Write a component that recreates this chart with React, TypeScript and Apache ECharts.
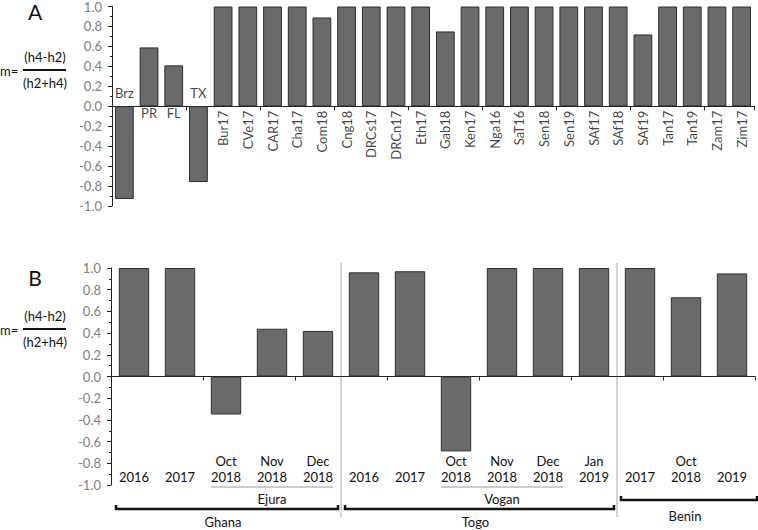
import React, { useEffect, useRef } from 'react';
import * as echarts from 'echarts';

// ---------- Data ----------
const topCategories = ['Brz', 'PR', 'FL', 'TX', 'Bur17', 'CVe17', 'CAR17', 'Cha17', 'Com18', 'Cng18', 'DRCs17', 'DRCn17', 'Eth17', 'Gab18', 'Ken17', 'Nga16', 'SaT16', 'Sen18', 'Sen19', 'SAf17', 'SAf18', 'SAf19', 'Tan17', 'Tan19', 'Zam17', 'Zim17'];
const topValues = [-0.93, 0.59, 0.41, -0.76, 1, 1, 1, 1, 0.89, 1, 1, 1, 1, 0.75, 1, 1, 1, 1, 1, 1, 1, 0.72, 1, 1, 1, 1];
const topHorizontalLabels = ['Brz', 'PR', 'FL', 'TX'];

const bottomKeys = ['Gh2016', 'Gh2017', 'GhOct18', 'GhNov18', 'GhDec18', 'To2016', 'To2017', 'ToOct18', 'ToNov18', 'ToDec18', 'ToJan19', 'Be2017', 'BeOct18', 'Be2019'];
const bottomLabels = ['2016', '2017', 'Oct\n2018', 'Nov\n2018', 'Dec\n2018', '2016', '2017', 'Oct\n2018', 'Nov\n2018', 'Dec\n2018', 'Jan\n2019', '2017', 'Oct\n2018', '2019'];
const bottomValues = [1, 1, -0.35, 0.44, 0.42, 0.96, 0.97, -0.69, 1, 1, 1, 1, 0.73, 0.95];

const countryGroups = [
  { name: 'Ghana', from: 0, to: 4 },
  { name: 'Togo', from: 5, to: 10 },
  { name: 'Benin', from: 11, to: 13 },
];
const siteGroups = [
  { name: 'Ejura', from: 2, to: 4 },
  { name: 'Vogan', from: 7, to: 9 },
];
const separatorsAfter = [4, 10];

const yTickMin = -1;
const yTickMax = 1;
const yTickStep = 0.2;

// ---------- Styles ----------
const FONT = 'Lato, "Open Sans", sans-serif';
const BAR_FILL = '#6a6a6a';
const BAR_EDGE = '#2e2e2e';
const TICK_LABEL = '#808080';
const TEXT = '#111111';

const fmtY = (v: number) => (Math.abs(v) < 1e-9 ? '0.0' : v.toFixed(1));

const yAxisCommon = (gridIndex: number) => ({
  type: 'value',
  gridIndex,
  min: yTickMin,
  max: yTickMax,
  interval: yTickStep,
  axisLine: { show: true, lineStyle: { color: '#222', width: 1 } },
  axisTick: { show: true, length: 4, lineStyle: { color: '#222' } },
  minorTick: { show: true, splitNumber: 2, length: 2, lineStyle: { color: '#222' } },
  splitLine: { show: false },
  axisLabel: { formatter: fmtY, color: TICK_LABEL, fontSize: 13, fontFamily: FONT, margin: 10 },
});

export default function App() {
  const ref = useRef<HTMLDivElement>(null);

  useEffect(() => {
    if (!ref.current) return;
    const chart = echarts.init(ref.current, undefined, { renderer: 'svg' });

    const option: any = {
      animation: false,
      backgroundColor: '#ffffff',
      textStyle: { fontFamily: FONT },
      grid: [
        { left: 112, top: 6, width: 642, height: 200 },
        { left: 111, top: 268, width: 644, height: 217 },
      ],
      xAxis: [
        {
          type: 'category',
          gridIndex: 0,
          data: topCategories,
          axisLine: { onZero: true, lineStyle: { color: '#222', width: 1 } },
          axisTick: { show: true, length: 4, lineStyle: { color: '#222' } },
          axisLabel: { show: false },
        },
        {
          type: 'category',
          gridIndex: 1,
          data: bottomKeys,
          axisLine: { onZero: true, lineStyle: { color: '#222', width: 1 } },
          axisTick: { show: true, length: 4, lineStyle: { color: '#222' } },
          axisLabel: { show: false },
        },
        {
          type: 'category',
          gridIndex: 1,
          data: bottomKeys,
          position: 'bottom',
          axisLine: { show: false, onZero: false },
          axisTick: { show: false },
          axisLabel: {
            interval: 0,
            margin: 0,
            verticalAlign: 'bottom',
            lineHeight: 16,
            color: TEXT,
            fontSize: 13,
            fontFamily: FONT,
            formatter: (_v: string, i: number) => bottomLabels[i],
          },
        },
      ],
      yAxis: [yAxisCommon(0), yAxisCommon(1)],
      series: [
        {
          type: 'bar',
          xAxisIndex: 0,
          yAxisIndex: 0,
          data: topValues,
          barCategoryGap: '24%',
          itemStyle: { color: BAR_FILL, borderColor: BAR_EDGE, borderWidth: 1 },
        },
        {
          // category names written along the zero line
          type: 'scatter',
          xAxisIndex: 0,
          yAxisIndex: 0,
          symbolSize: 1,
          itemStyle: { color: 'rgba(0,0,0,0)' },
          silent: true,
          z: 5,
          data: topCategories.map((name, i) => {
            const v = topValues[i];
            const horizontal = topHorizontalLabels.includes(name);
            const label = horizontal
              ? {
                  show: true,
                  position: v < 0 ? 'top' : 'bottom',
                  distance: v < 0 ? 6 : 0,
                  formatter: name,
                  color: TEXT,
                  fontSize: 13,
                  fontFamily: FONT,
                  textBorderWidth: 0,
                }
              : {
                  show: true,
                  position: 'bottom',
                  distance: 4,
                  rotate: 90,
                  align: 'right',
                  verticalAlign: 'middle',
                  formatter: name,
                  color: TEXT,
                  fontSize: 13,
                  fontFamily: FONT,
                  textBorderWidth: 0,
                };
            return { value: [name, 0], label };
          }),
        },
        {
          type: 'bar',
          xAxisIndex: 1,
          yAxisIndex: 1,
          data: bottomValues,
          barCategoryGap: '34%',
          itemStyle: { color: BAR_FILL, borderColor: BAR_EDGE, borderWidth: 1 },
        },
      ],
    };
    chart.setOption(option);

    // Annotations positioned with the library's own category scale
    const px = (i: number) => chart.convertToPixel({ xAxisIndex: 2 }, i) as number;
    const band = px(1) - px(0);
    const graphics: any[] = [];

    const fraction = (cy: number) => [
      { type: 'text', x: 0, y: cy + 1, style: { text: 'm=', font: `13px ${FONT}`, fill: TEXT, textVerticalAlign: 'middle' } },
      { type: 'text', x: 45, y: cy - 13, style: { text: '(h4-h2)', font: `13px ${FONT}`, fill: TEXT, textAlign: 'center', textVerticalAlign: 'middle' } },
      { type: 'line', shape: { x1: 23, y1: cy, x2: 66, y2: cy }, style: { stroke: TEXT, lineWidth: 2 } },
      { type: 'text', x: 45, y: cy + 13, style: { text: '(h2+h4)', font: `13px ${FONT}`, fill: TEXT, textAlign: 'center', textVerticalAlign: 'middle' } },
    ];
    graphics.push({ type: 'text', x: 35, y: 11, style: { text: 'A', font: `21px ${FONT}`, fill: TEXT, textAlign: 'center', textVerticalAlign: 'middle' } });
    graphics.push(...fraction(70));
    graphics.push({ type: 'text', x: 35, y: 277, style: { text: 'B', font: `21px ${FONT}`, fill: TEXT, textAlign: 'center', textVerticalAlign: 'middle' } });
    graphics.push(...fraction(329));

    // vertical separators
    separatorsAfter.forEach((i) => {
      const x = px(i) + band / 2;
      graphics.push({ type: 'line', shape: { x1: x, y1: 263, x2: x, y2: 517 }, style: { stroke: '#c4c4c4', lineWidth: 1.5 } });
    });

    // site underlines + labels
    siteGroups.forEach((g) => {
      const x1 = px(g.from) - 15;
      const x2 = px(g.to) + 15;
      graphics.push({ type: 'line', shape: { x1, y1: 487, x2, y2: 487 }, style: { stroke: '#9a9a9a', lineWidth: 1 } });
      graphics.push({ type: 'text', x: (x1 + x2) / 2, y: 499, style: { text: g.name, font: `13px ${FONT}`, fill: TEXT, textAlign: 'center', textVerticalAlign: 'middle' } });
    });

    // country brackets
    countryGroups.forEach((g, k) => {
      const last = k === countryGroups.length - 1;
      const x1 = px(g.from) - band / 2 + (k === 0 ? 5 : 4);
      const x2 = last ? px(g.to) + band / 2 + 2 : px(g.to) + band / 2 - 3;
      const y = last ? 500 : 509;
      graphics.push({
        type: 'polyline',
        shape: { points: [[x1, y - 4], [x1, y], [x2, y], [x2, y - 4]] },
        style: { stroke: TEXT, lineWidth: 2.5, fill: 'none' },
      });
      graphics.push({ type: 'text', x: (x1 + x2) / 2 - 4, y: last ? 516 : 522, style: { text: g.name, font: `13px ${FONT}`, fill: TEXT, textAlign: 'center', textVerticalAlign: 'middle' } });
    });

    chart.setOption({ graphic: graphics });

    return () => chart.dispose();
  }, []);

  return <div ref={ref} style={{ position: 'fixed', left: 0, top: 0, width: 758, height: 530 }} />;
}
